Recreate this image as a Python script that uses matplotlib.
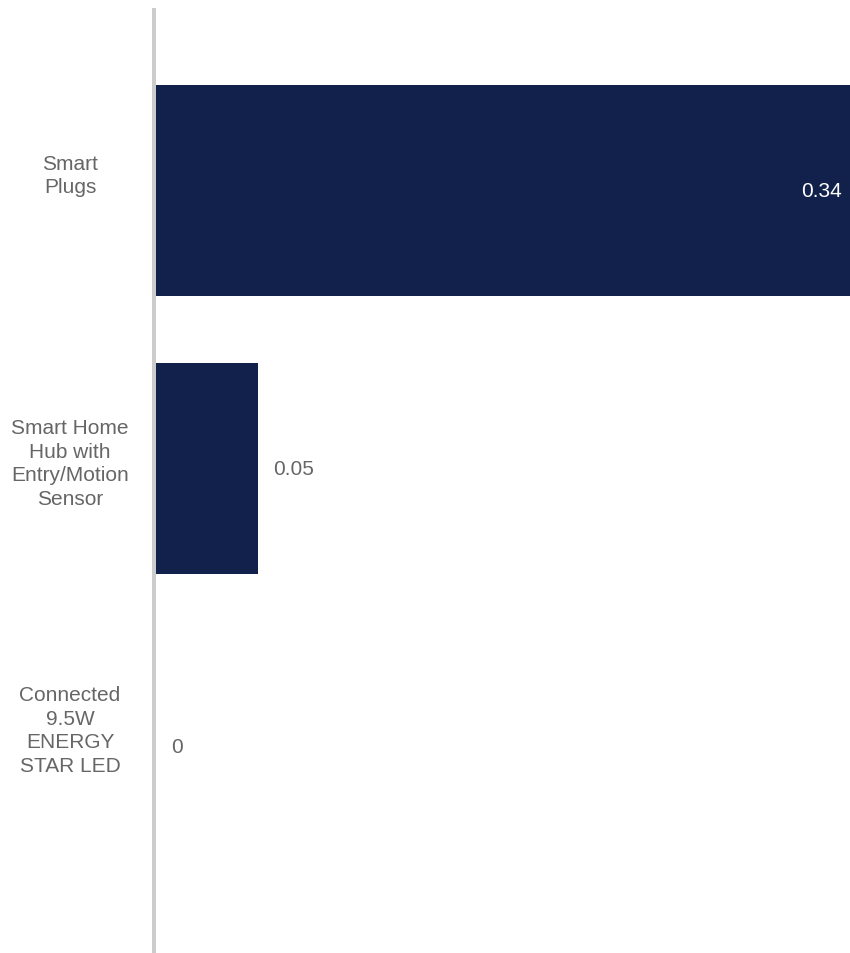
import matplotlib
matplotlib.use("Agg")
import matplotlib.pyplot as plt

# Data
categories = ["Smart\nPlugs", "Smart Home\nHub with\nEntry/Motion\nSensor", "Connected\n9.5W\nENERGY\nSTAR LED"]
values = [0.34, 0.05, 0]
value_labels = ["0.34", "0.05", "0"]

BAR_COLOR = "#11214b"
TEXT_COLOR = "#666666"
AXIS_COLOR = "#cccccc"
FONT = "Liberation Sans"
FS = 15

W, H, DPI = 850, 954, 100
fig = plt.figure(figsize=(W / DPI, H / DPI), dpi=DPI)
left_px, top_px = 156, 11
ax = fig.add_axes([left_px / W, 0, 1 - left_px / W, 1 - top_px / H])

ypos = list(range(len(categories)))
ax.barh(ypos, values, height=0.76, color=BAR_COLOR, zorder=2)

ax.set_xlim(0, max(values))
ax.set_ylim(2.743, -0.649)

for s in ["top", "right", "bottom"]:
    ax.spines[s].set_visible(False)
ax.spines["left"].set_color(AXIS_COLOR)
ax.spines["left"].set_linewidth(4 * 72 / DPI)
ax.spines["left"].set_position(("outward", 2 * 72 / DPI))
ax.spines["left"].set_zorder(1)
ax.set_xticks([])
ax.set_yticks([])

# Category labels, centred in the left margin
label_offsets_px = [-15.5, -5.5, -16.5]
for y, text, off in zip(ypos, categories, label_offsets_px):
    ax.annotate(text, xy=(0, y), xycoords=("axes fraction", "data"),
                xytext=(-86 * 72 / DPI, -off * 72 / DPI), textcoords="offset points",
                ha="center", va="center", fontsize=FS, family=FONT,
                color=TEXT_COLOR, linespacing=1.3)

# Value labels: inside the bar when it is wide enough, otherwise after it
vmax = max(values)
for y, v, lab in zip(ypos, values, value_labels):
    if v > 0.5 * vmax:
        ax.annotate(lab, xy=(v, y), xytext=(-8 * 72 / DPI, 0), textcoords="offset points",
                    ha="right", va="center", fontsize=FS, family=FONT, color="white")
    else:
        ax.annotate(lab, xy=(v, y), xytext=(15 * 72 / DPI, 0), textcoords="offset points",
                    ha="left", va="center", fontsize=FS, family=FONT, color=TEXT_COLOR)

fig.savefig("out.png", dpi=DPI)
